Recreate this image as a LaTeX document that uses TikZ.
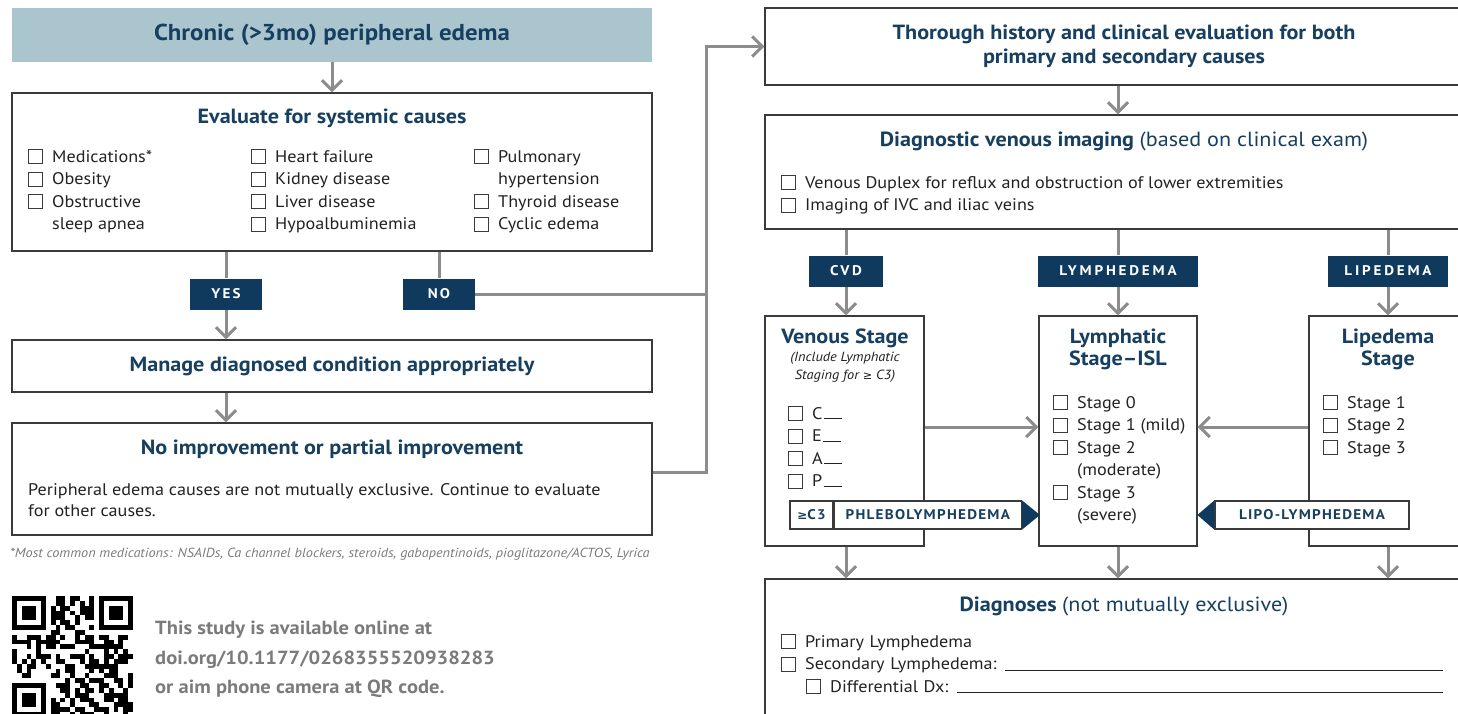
\documentclass[tikz,border=0pt]{standalone}
\usepackage{fontspec}
\setmainfont{PT Sans}[FakeStretch=1.08]
\newfontfamily\symfont{DejaVu Sans}
\usetikzlibrary{arrows.meta, positioning, calc}

\definecolor{navy}{HTML}{173F5F}
\definecolor{tagblue}{HTML}{0F3A5E}
\definecolor{headfill}{HTML}{ABC5CF}
\definecolor{linegray}{HTML}{8C8C8C}
\definecolor{edgegray}{HTML}{3A3A3A}
\definecolor{qrgray}{HTML}{7B7B7B}
\definecolor{inkgray}{HTML}{222222}

\newcommand{\cbox}{{\color{edgegray}\setlength{\fboxrule}{1pt}\setlength{\fboxsep}{0pt}\raisebox{-1pt}{\fbox{\rule{0pt}{13pt}\rule{13pt}{0pt}}}}\hspace{9pt}}
\newcommand{\cind}{\phantom{\cbox}}
\newcommand{\blank}{\kern1.5pt\rule{18pt}{1.2pt}}
\newcommand{\fillline}{\leavevmode\leaders\hrule height 0.2pt depth 0.8pt\hfill\kern0pt}
\newcommand{\geqsym}{{\symfont\fontsize{0.85em}{1em}\selectfont ≥}}

\begin{document}
\begin{tikzpicture}[
  x=1pt, y=-1pt,
  >={Straight Barb[length=10pt, width=20pt]},
  box/.style={draw=edgegray, line width=1.3pt, fill=white, inner sep=0pt},
  headbox/.style={fill=headfill, inner sep=0pt},
  title/.style={font=\bfseries\fontsize{20.5}{24}\selectfont, text=navy, align=center, inner sep=0pt},
  items/.style={font=\fontsize{16.8}{22.5}\selectfont, text=inkgray, align=left, inner sep=0pt},
  tag/.style={fill=tagblue, text=white, font=\bfseries\fontsize{14}{14}\selectfont\addfontfeature{LetterSpace=20}, minimum height=31pt, inner sep=0pt},
  sidetag/.style={draw=edgegray, line width=1.3pt, fill=white, text=navy, font=\bfseries\fontsize{14}{14}\selectfont\addfontfeature{LetterSpace=9}, minimum height=28pt, inner sep=0pt},
  flow/.style={->, draw=linegray, line width=3pt},
  link/.style={draw=linegray, line width=3pt}
]
\clip (0,0) rectangle (1458,713);

% left column
\node[headbox, title, font=\bfseries\fontsize{23}{26}\selectfont, minimum width=640pt, minimum height=54pt] (chronic) at (332,35) {Chronic (>3mo) peripheral edema};

\node[box, minimum width=640pt, minimum height=158pt] (sys) at (332,172) {};
\node[title] (systitle) at (332,118) {Evaluate for systemic causes};
\node[items, anchor=north west] (colA) at (28,149) {\cbox Medications*\\\cbox Obesity\\\cbox Obstructive\\\cind sleep apnea};
\node[items, anchor=north west] (colB) at (251,149) {\cbox Heart failure\\\cbox Kidney disease\\\cbox Liver disease\\\cbox Hypoalbuminemia};
\node[items, anchor=north west] (colC) at (474,149) {\cbox Pulmonary\\\cind hypertension\\\cbox Thyroid disease\\\cbox Cyclic edema};

\node[tag, font=\bfseries\fontsize{14}{14}\selectfont\addfontfeature{LetterSpace=15}, minimum width=72pt] (yes) at (226,294) {YES};
\node[tag, font=\bfseries\fontsize{14}{14}\selectfont\addfontfeature{LetterSpace=15}, minimum width=72pt] (no) at (439,294) {NO};

\node[box, title, minimum width=640pt, minimum height=52pt] (manage) at (332,366) {Manage diagnosed condition appropriately};

\node[box, minimum width=640pt, minimum height=112pt] (noimp) at (332,479) {};
\node[title] (noimptitle) at (332,449) {No improvement or partial improvement};
\node[items, anchor=north west, font=\fontsize{16.8}{21}\selectfont] (noimptext) at (28,483) {Peripheral edema causes are not mutually exclusive. Continue to evaluate\\for other causes.};

\node[anchor=west, inner sep=0pt, text=qrgray, font=\itshape\fontsize{13.2}{15}\selectfont] (footnote) at (10,554) {*Most common medications: NSAIDs, Ca channel blockers, steroids, gabapentinoids, pioglitazone/ACTOS, Lyrica};

% QR code
\foreach \qx/\qy in {0/0, 18/0, 0/18}{
  \fill (12+\qx*4.84, 596+\qy*4.84) rectangle ++(33.88,33.88);
  \fill[white] (12+\qx*4.84+4.84, 596+\qy*4.84+4.84) rectangle ++(24.2,24.2);
  \fill (12+\qx*4.84+9.68, 596+\qy*4.84+9.68) rectangle ++(14.52,14.52);
}
\pgfmathsetseed{2718}
\foreach \i in {0,...,24}{
  \foreach \j in {0,...,24}{
    \pgfmathtruncatemacro{\infinder}{((\i<8)&&(\j<8)) || ((\i>16)&&(\j<8)) || ((\i<8)&&(\j>16))}
    \pgfmathtruncatemacro{\bit}{random(0,1)}
    \ifnum\infinder=0 \ifnum\bit=1
      \fill (12+\i*4.84, 596+\j*4.84) rectangle ++(4.84,4.84);
    \fi\fi
  }
}
\node[anchor=north west, inner sep=0pt, align=left, text=qrgray, font=\bfseries\fontsize{19}{29.5}\selectfont] (qrtext) at (155,621) {This study is available online at\\doi.org/10.1177/0268355520938283\\or aim phone camera at QR code.};

% right column
\node[box, minimum width=718pt, minimum height=77pt] (hist) at (1124,46.5) {};
\node[title] (histtitle) at (1124,46) {Thorough history and clinical evaluation for both\\primary and secondary causes};

\node[box, minimum width=718pt, minimum height=114pt] (img) at (1124,172) {};
\node[title] (imgtitle) at (1124,141) {Diagnostic venous imaging {\mdseries (based on clinical exam)}};
\node[items, anchor=north west] (imgitems) at (781,175) {\cbox Venous Duplex for reflux and obstruction of lower extremities\\\cbox Imaging of IVC and iliac veins};

\node[tag, minimum width=74pt] (cvd) at (846,271) {CVD};
\node[tag, minimum width=160pt] (lym) at (1118,271) {LYMPHEDEMA};
\node[tag, minimum width=120pt] (lip) at (1388,271) {LIPEDEMA};

\node[box, minimum width=159pt, minimum height=230pt] (venous) at (844.5,431) {};
\node[box, minimum width=158pt, minimum height=230pt] (lymph) at (1118,431) {};
\node[box, minimum width=158pt, minimum height=230pt] (lipo) at (1388,431) {};

\node[title] (ventitle) at (845,338) {Venous Stage};
\node[align=center, inner sep=0pt, text=inkgray, font=\itshape\fontsize{13.3}{18}\selectfont] (vensub) at (845,367) {(Include Lymphatic\\Staging for \geqsym\ C3)};
\node[items, anchor=north west] (venitems) at (788,406) {\cbox C\blank\\\cbox E\blank\\\cbox A\blank\\\cbox P\blank};

\node[title, font=\bfseries\fontsize{20.5}{22}\selectfont] (lymtitle) at (1118,349) {Lymphatic\\Stage–ISL};
\node[items, anchor=north west] (lymitems) at (1053,395) {\cbox Stage 0\\\cbox Stage 1 (mild)\\\cbox Stage 2\\\cind (moderate)\\\cbox Stage 3\\\cind (severe)};

\node[title, font=\bfseries\fontsize{20.5}{22}\selectfont] (liptitle) at (1388,349) {Lipedema\\Stage};
\node[items, anchor=north west] (lipitems) at (1323,395) {\cbox Stage 1\\\cbox Stage 2\\\cbox Stage 3};

\node[sidetag, minimum width=43pt] (gec) at (811.5,515) {\geqsym C3};
\node[sidetag, minimum width=187pt, right=0pt of gec] (phlebo) {PHLEBOLYMPHEDEMA};
\fill[tagblue] (phlebo.north east) -- ($(phlebo.east)+(18,0)$) -- (phlebo.south east) -- cycle;

\node[sidetag, minimum width=194pt] (lipolym) at (1312,515) {LIPO-LYMPHEDEMA\hspace{8pt}};
\fill[tagblue] (lipolym.north west) -- ($(lipolym.west)+(-17,0)$) -- (lipolym.south west) -- cycle;

\node[box, minimum width=718pt, minimum height=160pt] (diag) at (1124,659) {};
\node[title] (diagtitle) at (1124,606) {Diagnoses {\mdseries (not mutually exclusive)}};
\node[items, anchor=north west, text width=662pt] (diagitems) at (781,634) {\cbox Primary Lymphedema\\\cbox Secondary Lymphedema: \fillline\\\hspace*{25pt}\cbox Differential Dx: \fillline};

% connectors, left
\draw[flow] (chronic) -- (sys);
\draw[link] (sys.south -| yes) -- (yes);
\draw[flow] (yes) -- (manage.north -| yes);
\draw[link] (sys.south -| no) -- (no);
\coordinate (jn) at (706,294);
\draw[link] (no) -- (jn);
\draw[flow] (manage.south -| yes) -- (noimp.north -| yes);
\draw[flow] ($(noimp.east)+(0,-7)$) -| (jn) |- (hist.west);

% connectors, right
\draw[flow] (hist.south -| lym) -- (img.north -| lym);
\draw[link] (img.south -| cvd) -- (cvd);
\draw[link] (img.south -| lym) -- (lym);
\draw[link] (img.south -| lip) -- (lip);
\draw[flow] (cvd) -- (venous.north -| cvd);
\draw[flow] (lym) -- (lymph.north -| lym);
\draw[flow] (lip) -- (lipo.north -| lip);
\draw[flow] ($(venous.east)+(0,-4)$) -- ($(lymph.west)+(0,-4)$);
\draw[flow] ($(lipo.west)+(0,-4)$) -- ($(lymph.east)+(0,-4)$);
\draw[flow] (venous.south -| cvd) -- (diag.north -| cvd);
\draw[flow] (lymph.south -| lym) -- (diag.north -| lym);
\draw[flow] (lipo.south -| lip) -- (diag.north -| lip);
\end{tikzpicture}
\end{document}
